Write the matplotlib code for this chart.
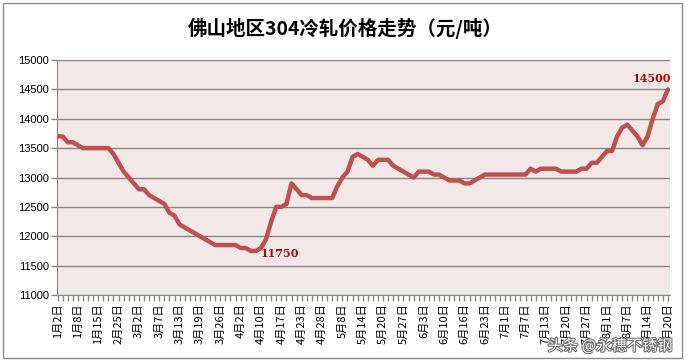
import matplotlib
matplotlib.use("Agg")
from matplotlib import pyplot as plt
from matplotlib.patches import Rectangle
import matplotlib.patheffects as pe
import numpy as np

plt.rcParams["font.family"] = ["Noto Sans CJK SC", "DejaVu Sans"]

# category labels shown on the axis (every 4th trading day)
shown_dates = ["1月2日", "1月8日", "1月15日", "2月25日", "3月2日", "3月7日", "3月13日",
               "3月19日", "3月26日", "4月2日", "4月10日", "4月17日", "4月23日", "4月28日",
               "5月8日", "5月14日", "5月20日", "5月27日", "6月3日", "6月10日", "6月16日",
               "6月23日", "7月1日", "7月7日", "7月13日", "7月20日", "7月27日", "8月1日",
               "8月7日", "8月14日", "8月20日"]
label_step = 4

# price per trading day, yuan/ton
prices = [
    13700, 13700, 13600, 13600, 13550, 13500, 13500, 13500, 13500, 13500,
    13500, 13400, 13250, 13100, 13000, 12900, 12800, 12800, 12700, 12650,
    12600, 12550, 12400, 12350, 12200, 12150, 12100, 12050, 12000, 11950,
    11900, 11850, 11850, 11850, 11850, 11850, 11800, 11800, 11750, 11750,
    11800, 11950, 12250, 12500, 12500, 12550, 12900, 12800, 12700, 12700,
    12650, 12650, 12650, 12650, 12650, 12850, 13000, 13100, 13350, 13400,
    13350, 13300, 13200, 13300, 13300, 13300, 13200, 13150, 13100, 13050,
    13000, 13100, 13100, 13100, 13050, 13050, 13000, 12950, 12950, 12950,
    12900, 12900, 12950, 13000, 13050, 13050, 13050, 13050, 13050, 13050,
    13050, 13050, 13050, 13150, 13100, 13150, 13150, 13150, 13150, 13100,
    13100, 13100, 13100, 13150, 13150, 13250, 13250, 13350, 13450, 13450,
    13700, 13850, 13900, 13800, 13700, 13550, 13700, 14000, 14250, 14300,
    14500,
]

x = np.arange(len(prices))
i_min = int(np.argmin(prices))
i_last = len(prices) - 1

fig = plt.figure(figsize=(6.91, 3.64), dpi=100)
fig.patch.set_facecolor("white")

# chart frame
fig.patches.append(Rectangle((3 / 691, 6 / 364), 679 / 691, 355 / 364,
                             transform=fig.transFigure, fill=False,
                             edgecolor="#8c8c8c", linewidth=1.0))

ax = fig.add_axes([57 / 691, 69 / 364, 613 / 691, 235 / 364])
ax.set_facecolor("#f2e8e8")

ax.plot(x, prices, color="#c0504d", linewidth=3.2, solid_joinstyle="round",
        solid_capstyle="round", zorder=3)

ax.set_ylim(11000, 15000)
ax.set_yticks(np.arange(11000, 15001, 500))
ax.set_xlim(-0.1, i_last + 0.4)
ax.set_xticks(x[::label_step])
ax.set_xticklabels(shown_dates, rotation=90, fontsize=8)
ax.set_xticks(x, minor=True)
ax.grid(axis="y", color="#868686", linewidth=1.0)
ax.set_axisbelow(True)

for lab in ax.get_yticklabels():
    lab.set_family("Liberation Sans")
    lab.set_fontsize(8)

for side in ["top", "right"]:
    ax.spines[side].set_visible(False)
for side in ["left", "bottom"]:
    ax.spines[side].set_color("#868686")
ax.tick_params(axis="both", which="both", direction="out", color="#868686",
               length=4, width=1, pad=2)

ax.annotate(f"{prices[i_min]}", (x[i_min], prices[i_min]), xytext=(7, -2),
            textcoords="offset points", color="#c00000", fontsize=8,
            fontweight="bold", family="DejaVu Serif", va="center", ha="left")
ax.annotate(f"{prices[i_last]}", (x[i_last], prices[i_last]), xytext=(2, 4),
            textcoords="offset points", color="#c00000", fontsize=8,
            fontweight="bold", family="DejaVu Serif", va="bottom", ha="right")

fig.text(0.5, 1 - 28 / 364, "佛山地区304冷轧价格走势（元/吨）", ha="center", va="center",
         fontsize=14, fontweight="bold")

fig.text(610 / 691, 1 - 346 / 364, "头条 @永穗不锈钢", ha="center", va="center",
         fontsize=11, color="white",
         path_effects=[pe.withStroke(linewidth=1.5, foreground="#6e6e6e")])

fig.savefig("out.png", dpi=100)
